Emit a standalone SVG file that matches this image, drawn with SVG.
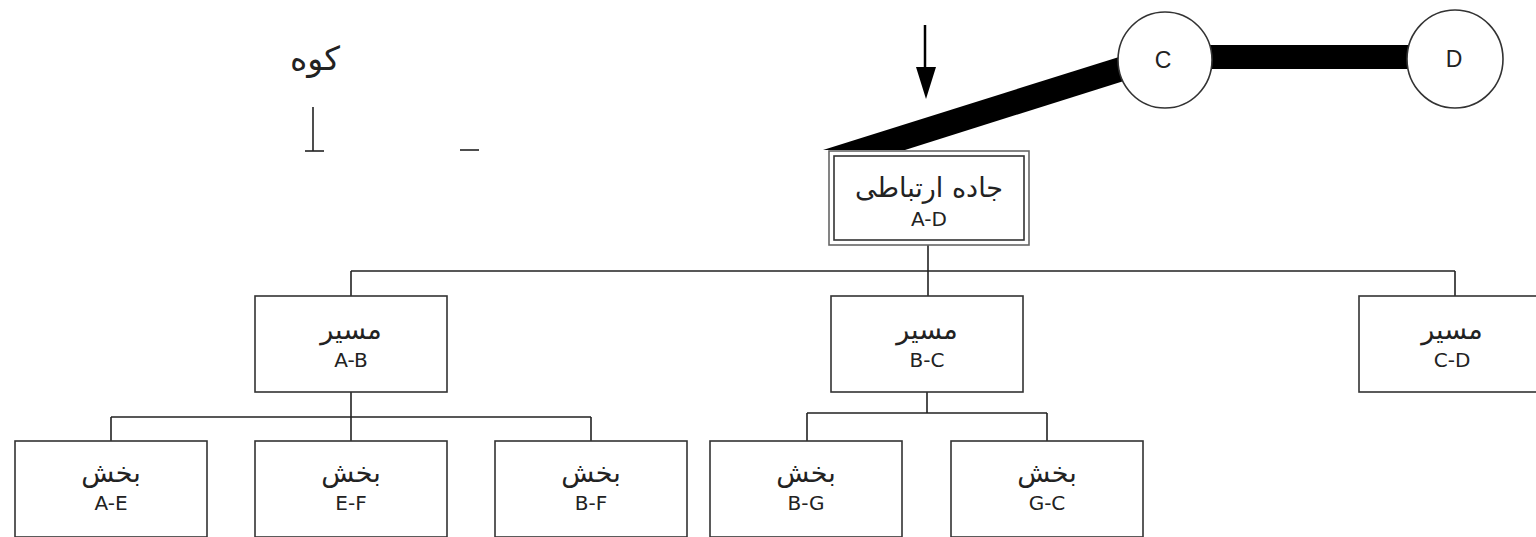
<svg xmlns="http://www.w3.org/2000/svg" width="1536" height="537" viewBox="0 0 1536 537">
<style>
.box{fill:#fff;stroke:#333;stroke-width:1.6}
.ln{fill:none;stroke:#222;stroke-width:1.6}
.t{font-family:"DejaVu Sans","Noto Sans",sans-serif;font-size:20px;fill:#222;text-anchor:middle}
.a{font-family:"DejaVu Sans","Noto Sans",sans-serif;font-size:27px;fill:#222;text-anchor:middle}
.c{font-family:"Liberation Sans",Arial,sans-serif;font-size:23px;fill:#222;text-anchor:middle}
.circ{fill:#fff;stroke:#333;stroke-width:1.6}
</style>
<g id="mountain">
<text x="315" y="70" class="a" style="font-size:33px" direction="rtl">کوه</text>
<line x1="313" y1="107" x2="313" y2="151" class="ln"/>
<line x1="305" y1="151" x2="324" y2="151" class="ln"/>
<line x1="460" y1="150" x2="479" y2="150" class="ln"/>
</g>
<g id="connectors">
<polygon points="823,150 1119,57 1127,80 905,150" fill="#000"/>
<rect x="1210" y="45" width="199" height="24" fill="#000"/>
<line x1="925" y1="25" x2="925" y2="70" stroke="#000" stroke-width="2.5"/>
<path d="M916,67 L936,67 L926,99 Z" fill="#000"/>
<path d="M928,245 V271 M351,271 H1455 M351,271 V296 M928,271 V296 M1455,271 V296" class="ln"/>
<path d="M351,392 V417 M111,417 H591 M111,417 V441 M351,417 V441 M591,417 V441" class="ln"/>
<path d="M927,392 V413 M807,413 H1047 M807,413 V441 M1047,413 V441" class="ln"/>
</g>
<g id="nodeC">
<ellipse cx="1165" cy="60" rx="47" ry="48" class="circ"/>
<text x="1163" y="68" class="c">C</text>
</g>
<g id="nodeD">
<ellipse cx="1455" cy="59" rx="48" ry="49" class="circ"/>
<text x="1454" y="67" class="c">D</text>
</g>
<g id="nodeAD">
<rect x="829" y="151" width="200" height="94" fill="#fff" stroke="#666" stroke-width="1.6"/>
<rect x="834" y="156" width="190" height="84" fill="#fff" stroke="#333" stroke-width="1.6"/>
<text x="929" y="197" class="a" direction="rtl">جاده ارتباطی</text>
<text x="929" y="226" class="t">A-D</text>
</g>
<g id="nodeAB">
<rect x="255" y="296" width="192" height="96" class="box"/>
<text x="351" y="339" class="a" direction="rtl">مسیر</text>
<text x="351" y="367" class="t">A-B</text>
</g>
<g id="nodeBC">
<rect x="831" y="296" width="192" height="96" class="box"/>
<text x="927" y="339" class="a" direction="rtl">مسیر</text>
<text x="927" y="367" class="t">B-C</text>
</g>
<g id="nodeCD">
<rect x="1359" y="296" width="192" height="96" class="box"/>
<text x="1452" y="339" class="a" direction="rtl">مسیر</text>
<text x="1452" y="367" class="t">C-D</text>
</g>
<g id="nodeAE">
<rect x="15" y="441" width="192" height="96" class="box"/>
<text x="111" y="482" class="a" direction="rtl">بخش</text>
<text x="111" y="510" class="t">A-E</text>
</g>
<g id="nodeEF">
<rect x="255" y="441" width="192" height="96" class="box"/>
<text x="351" y="482" class="a" direction="rtl">بخش</text>
<text x="351" y="510" class="t">E-F</text>
</g>
<g id="nodeBF">
<rect x="495" y="441" width="192" height="96" class="box"/>
<text x="591" y="482" class="a" direction="rtl">بخش</text>
<text x="591" y="510" class="t">B-F</text>
</g>
<g id="nodeBG">
<rect x="710" y="441" width="192" height="96" class="box"/>
<text x="806" y="482" class="a" direction="rtl">بخش</text>
<text x="806" y="510" class="t">B-G</text>
</g>
<g id="nodeGC">
<rect x="951" y="441" width="192" height="96" class="box"/>
<text x="1047" y="482" class="a" direction="rtl">بخش</text>
<text x="1047" y="510" class="t">G-C</text>
</g>
</svg>
